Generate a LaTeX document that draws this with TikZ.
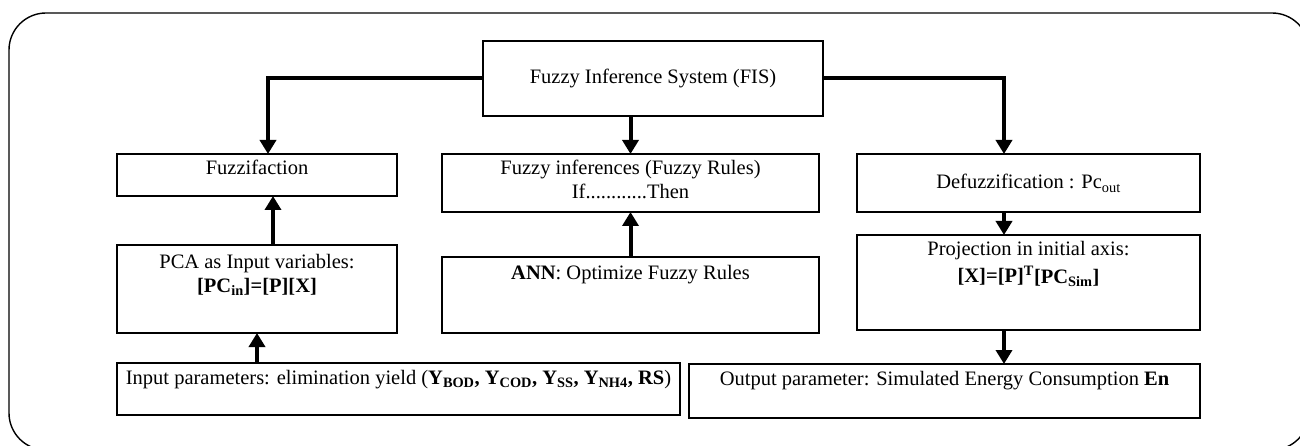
\documentclass[tikz,border=0pt]{standalone}
\usepackage{fontspec}
\setmainfont{Liberation Serif}
\usetikzlibrary{arrows.meta}
\newcommand{\bx}[4]{\parbox[c][#2pt][t]{#1pt}{\centering\rule{0pt}{#3pt}#4}}
\begin{document}
\begin{tikzpicture}[x=1pt,y=-1pt,
  box/.style={draw, line width=1.4pt, inner sep=0pt, outer sep=0pt, anchor=north west,
    font=\fontsize{20.5}{24}\selectfont},
  arr/.style={line width=4pt, -{Triangle[width=16pt,length=14pt]}},
  frame/.style={draw, line width=1.4pt, rounded corners=37pt}]
\useasboundingbox (0,0) rectangle (1300,446);
\draw[frame] (9,13) rectangle (1309,450);

\node[box] (fis) at (483,41) {\parbox[c][75pt][c]{340pt}{\centering Fuzzy Inference System (FIS)}};
\node[box] (fuzz) at (117,154) {\bx{280}{42}{21}{Fuzzifaction}};
\node[box] (inf) at (442,154) {\bx{377}{58}{21}{Fuzzy inferences (Fuzzy Rules)\\If............Then}};
\node[box] (defuzz) at (857,154) {\bx{343}{58}{35}{Defuzzification : Pc\textsubscript{out}}};
\node[box] (pca) at (117,245) {\bx{280}{88}{23}{PCA as Input variables:\\\textbf{[PC\textsubscript{in}]=[P][X]}}};
\node[box] (ann) at (442,257) {\bx{377}{76}{22}{\textbf{ANN}: Optimize Fuzzy Rules}};
\node[box] (proj) at (857,235) {\bx{343}{95}{20}{Projection in initial axis:\\[4pt]\textbf{[X]=[P]\textsuperscript{T}[PC\textsubscript{Sim}]}}};
\node[box] (inp) at (117,363) {\bx{563}{52}{21}{Input parameters: elimination yield (\textbf{Y\textsubscript{BOD}, Y\textsubscript{COD}, Y\textsubscript{SS}, Y\textsubscript{NH4}, RS})}};
\node[box] (out) at (689,364) {\bx{511}{54}{21}{Output parameter: Simulated Energy Consumption \textbf{En}}};

\draw[arr] (fis.west) -| ([xshift=11pt]fuzz.north);
\draw[arr] (fis.east) -| ([xshift=-24.5pt]defuzz.north);
\draw[arr] (inf.north |- fis.south) -- (inf.north);
\draw[arr] ([xshift=16pt]pca.north) -- ([xshift=16pt]fuzz.south);
\draw[arr] (ann.north) -- (inf.south);
\draw[arr] ([xshift=-24.5pt]defuzz.south) -- ([xshift=-24.5pt]proj.north);
\draw[arr] (inp.north -| pca.south) -- (pca.south);
\draw[arr] ([xshift=-24.5pt]proj.south) -- ([xshift=-24.5pt]proj.south |- out.north);
\end{tikzpicture}
\end{document}
